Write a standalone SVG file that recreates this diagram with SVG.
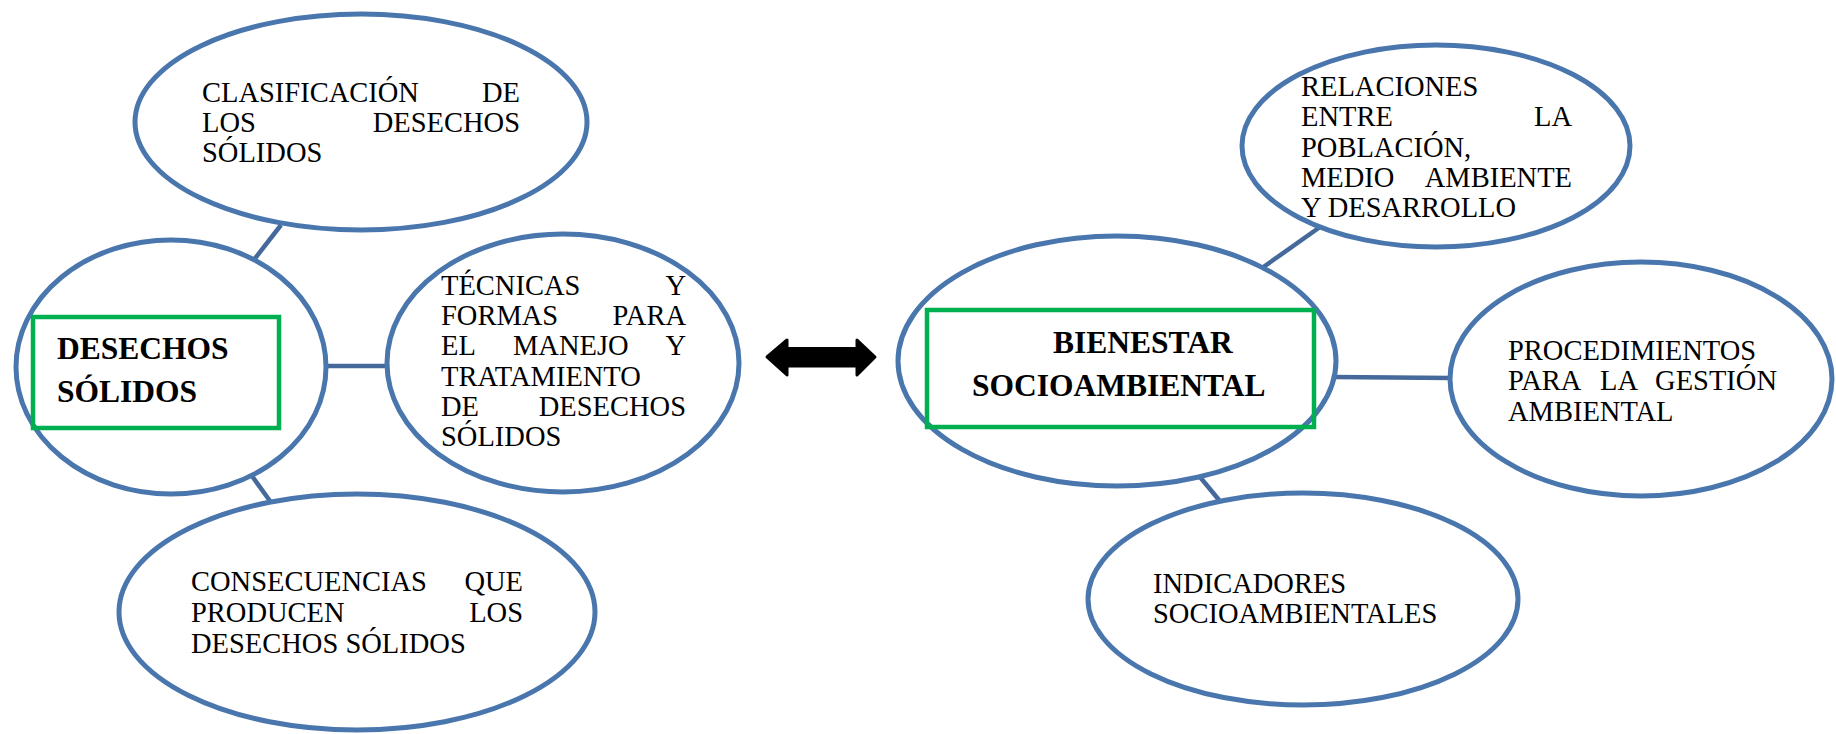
<svg xmlns="http://www.w3.org/2000/svg" width="1836" height="734" viewBox="0 0 1836 734">
<style>
.ell{fill:#fff;stroke:#4A76AE;stroke-width:5}
.con{stroke:#44699A;stroke-width:4.5;fill:none}
.box{fill:none;stroke:#00B050;stroke-width:4.5}
.t{font-family:"Liberation Serif","Times New Roman",serif;font-size:28.5px;fill:#000}
.b{font-family:"Liberation Serif","Times New Roman",serif;font-size:31.5px;font-weight:bold;fill:#000}
.e{text-anchor:end}
</style>
<rect width="1836" height="734" fill="#fff"/>
<g id="connectors">
<line class="con" x1="281" y1="225" x2="253" y2="261"/>
<line class="con" x1="326" y1="366" x2="389" y2="366"/>
<line class="con" x1="252" y1="476" x2="270" y2="501"/>
<line class="con" x1="1262" y1="268" x2="1320" y2="227"/>
<line class="con" x1="1334" y1="377" x2="1452" y2="378"/>
<line class="con" x1="1200" y1="477" x2="1219" y2="500"/>
</g>
<g id="arrow">
<path d="M767,357 L787,340 L787,348.5 L857,348.5 L857,340 L875,357 L857,375 L857,366 L787,366 L787,375 Z" fill="#000" stroke="#000" stroke-width="3" stroke-linejoin="round"/>
</g>
<g id="n-clasificacion">
<ellipse class="ell" cx="361" cy="122" rx="226" ry="108"/>
<text class="t" x="202" y="102">CLASIFICACIÓN</text>
<text class="t e" x="520" y="102">DE</text>
<text class="t" x="202" y="132">LOS</text>
<text class="t e" x="520" y="132">DESECHOS</text>
<text class="t" x="202" y="162">SÓLIDOS</text>
</g>
<g id="n-desechos">
<ellipse class="ell" cx="171" cy="367" rx="155" ry="127"/>
<rect class="box" x="33" y="317" width="246" height="111"/>
<text class="b" x="57" y="359">DESECHOS</text>
<text class="b" x="57" y="402">SÓLIDOS</text>
</g>
<g id="n-tecnicas">
<ellipse class="ell" cx="563" cy="363" rx="176" ry="129"/>
<text class="t" x="441" y="295">TÉCNICAS</text>
<text class="t e" x="686" y="295">Y</text>
<text class="t" x="441" y="325">FORMAS</text>
<text class="t e" x="686" y="325">PARA</text>
<text class="t" x="441" y="355">EL</text>
<text class="t" x="513" y="355">MANEJO</text>
<text class="t e" x="686" y="355">Y</text>
<text class="t" x="441" y="386">TRATAMIENTO</text>
<text class="t" x="441" y="416">DE</text>
<text class="t e" x="686" y="416">DESECHOS</text>
<text class="t" x="441" y="446">SÓLIDOS</text>
</g>
<g id="n-consecuencias">
<ellipse class="ell" cx="357" cy="612" rx="238" ry="118"/>
<text class="t" x="191" y="591">CONSECUENCIAS</text>
<text class="t e" x="523" y="591">QUE</text>
<text class="t" x="191" y="622">PRODUCEN</text>
<text class="t e" x="523" y="622">LOS</text>
<text class="t" x="191" y="653">DESECHOS SÓLIDOS</text>
</g>
<g id="n-bienestar">
<ellipse class="ell" cx="1117" cy="361" rx="219" ry="125"/>
<rect class="box" x="927" y="310" width="387" height="117"/>
<text class="b" x="1053" y="353">BIENESTAR</text>
<text class="b" x="972" y="396">SOCIOAMBIENTAL</text>
</g>
<g id="n-relaciones">
<ellipse class="ell" cx="1436" cy="146" rx="194" ry="101"/>
<text class="t" x="1301" y="96">RELACIONES</text>
<text class="t" x="1301" y="126">ENTRE</text>
<text class="t e" x="1572" y="126">LA</text>
<text class="t" x="1301" y="157">POBLACIÓN,</text>
<text class="t" x="1301" y="187">MEDIO</text>
<text class="t e" x="1572" y="187">AMBIENTE</text>
<text class="t" x="1301" y="217">Y DESARROLLO</text>
</g>
<g id="n-procedimientos">
<ellipse class="ell" cx="1641" cy="379" rx="191" ry="117"/>
<text class="t" x="1508" y="360">PROCEDIMIENTOS</text>
<text class="t" x="1508" y="390">PARA</text>
<text class="t" x="1600" y="390">LA</text>
<text class="t e" x="1777" y="390">GESTIÓN</text>
<text class="t" x="1508" y="421">AMBIENTAL</text>
</g>
<g id="n-indicadores">
<ellipse class="ell" cx="1303" cy="599" rx="215" ry="106"/>
<text class="t" x="1153" y="593">INDICADORES</text>
<text class="t" x="1153" y="623">SOCIOAMBIENTALES</text>
</g>
</svg>
